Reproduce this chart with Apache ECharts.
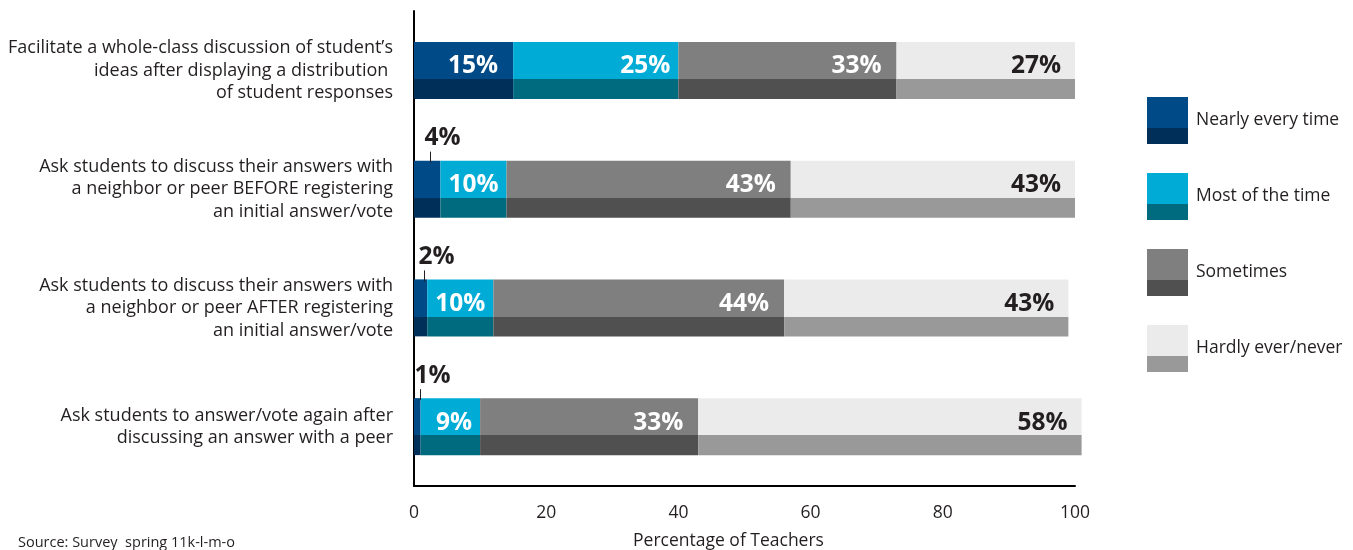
<!DOCTYPE html>
<html>
<head>
<meta charset="utf-8">
<script src="https://cdn.jsdelivr.net/npm/echarts@6/dist/echarts.min.js"></script>
<style>
  html, body { margin: 0; padding: 0; background: #fff; }
  #chart { width: 1353px; height: 550px; }
</style>
</head>
<body>
<div id="chart"></div>
<script>
// Classroom practices surveyed
const practices = [
  'Facilitate a whole-class discussion of student\u2019s\nideas after displaying a distribution \nof student responses',
  'Ask students to discuss their answers with\na neighbor or peer BEFORE registering\nan initial answer/vote',
  'Ask students to discuss their answers with\na neighbor or peer AFTER registering\nan initial answer/vote',
  'Ask students to answer/vote again after\ndiscussing an answer with a peer'
];
const frequencyLevels = ['Nearly every time', 'Most of the time', 'Sometimes', 'Hardly ever/never'];

// Percentage of teachers per practice
const nearlyEveryTime = [15, 4, 2, 1];
const mostOfTheTime   = [25, 10, 10, 9];
const sometimes       = [33, 43, 44, 33];
const hardlyEver      = [27, 43, 43, 58];

const xTicks = [0, 20, 40, 60, 80, 100];

const FONT = '"Open Sans", Lato, sans-serif';
const INK = '#231f20';
const VALUE_SIZE = 24.5;

// light upper face, darker lower band
function twoTone(top, bottom) {
  return {
    type: 'linear', x: 0, y: 0, x2: 0, y2: 1,
    colorStops: [
      { offset: 0, color: top },
      { offset: 0.655, color: top },
      { offset: 0.655, color: bottom },
      { offset: 1, color: bottom }
    ]
  };
}

const palette = [
  twoTone('#004b87', '#002f5a'),
  twoTone('#00acd5', '#006b7f'),
  twoTone('#7f7f7f', '#505050'),
  twoTone('#ebebeb', '#999999')
];

const SMALL = 5; // values below this get a callout above the bar

function barSeries(name, values, color, labelColor, distance) {
  return {
    name: name,
    type: 'bar',
    stack: 'total',
    barWidth: 57,
    clip: false,
    itemStyle: { color: color },
    emphasis: { disabled: true },
    label: {
      show: true,
      position: 'insideRight',
      distance: distance,
      offset: [0, -4],
      formatter: p => (p.value < SMALL ? '' : p.value + '%'),
      color: labelColor,
      fontFamily: FONT,
      fontWeight: 'bold',
      fontSize: VALUE_SIZE
    },
    data: values
  };
}

const calloutData = nearlyEveryTime
  .map((v, i) => [v, i])
  .filter(d => d[0] < SMALL);

const chart = echarts.init(document.getElementById('chart'));

chart.setOption({
  backgroundColor: '#ffffff',
  animation: false,
  grid: { left: 414, right: 278, top: 11, bottom: 64, containLabel: false, outerBoundsMode: 'none' },
  legend: {
    orient: 'vertical',
    left: 1142,
    top: 92,
    itemWidth: 41,
    itemHeight: 47,
    itemGap: 29,
    data: frequencyLevels,
    icon: 'rect',
    textStyle: { fontFamily: FONT, fontSize: 17.5, color: INK, padding: [0, 0, 0, 3] },
    selectedMode: false
  },
  xAxis: {
    type: 'value',
    min: xTicks[0],
    max: xTicks[xTicks.length - 1],
    interval: xTicks[1] - xTicks[0],
    splitLine: { show: false },
    axisTick: { show: false },
    axisLine: { show: true, lineStyle: { color: '#000', width: 2 } },
    axisLabel: { fontFamily: FONT, fontSize: 17.5, color: INK, margin: 18 },
    name: 'Percentage of Teachers',
    nameLocation: 'middle',
    nameGap: 46,
    nameTextStyle: { fontFamily: FONT, fontSize: 17.5, color: INK, padding: [0, 32, 0, 0] }
  },
  yAxis: {
    type: 'category',
    data: practices,
    inverse: true,
    axisTick: { show: false },
    axisLine: { show: true, lineStyle: { color: '#000', width: 2 } },
    axisLabel: {
      fontFamily: FONT, fontSize: 18, color: INK, lineHeight: 22.5,
      margin: 21, align: 'right'
    }
  },
  graphic: [{
    type: 'text',
    left: 18,
    top: 535,
    style: { text: 'Source: Survey  spring 11k-l-m-o', fontFamily: FONT, fontSize: 14.5, fill: INK }
  }],
  series: [
    barSeries(frequencyLevels[0], nearlyEveryTime, palette[0], '#ffffff', 15),
    barSeries(frequencyLevels[1], mostOfTheTime, palette[1], '#ffffff', 8),
    barSeries(frequencyLevels[2], sometimes, palette[2], '#ffffff', 15),
    barSeries(frequencyLevels[3], hardlyEver, palette[3], INK, 14),
    {
      // callouts for slim segments: value above the bar with a short leader
      type: 'custom',
      coordinateSystem: 'cartesian2d',
      encode: { x: 0, y: 1 },
      clip: false,
      z: 5,
      data: calloutData,
      renderItem: function (params, api) {
        const v = api.value(0);
        const p = api.coord([v / 2, api.value(1)]);
        const top = p[1] - 28.5;
        const lx = Math.round(p[0] + 3) + 0.5;
        return {
          type: 'group',
          children: [
            {
              type: 'line',
              shape: { x1: lx, y1: top - 9, x2: lx, y2: top + 2 },
              style: { stroke: INK, lineWidth: 1 }
            },
            {
              type: 'text',
              x: lx - 6,
              y: top - 10,
              style: {
                text: v + '%', fill: INK, fontFamily: FONT, fontWeight: 'bold',
                fontSize: VALUE_SIZE, align: 'left', verticalAlign: 'bottom'
              }
            }
          ]
        };
      }
    }
  ]
});
</script>
</body>
</html>
